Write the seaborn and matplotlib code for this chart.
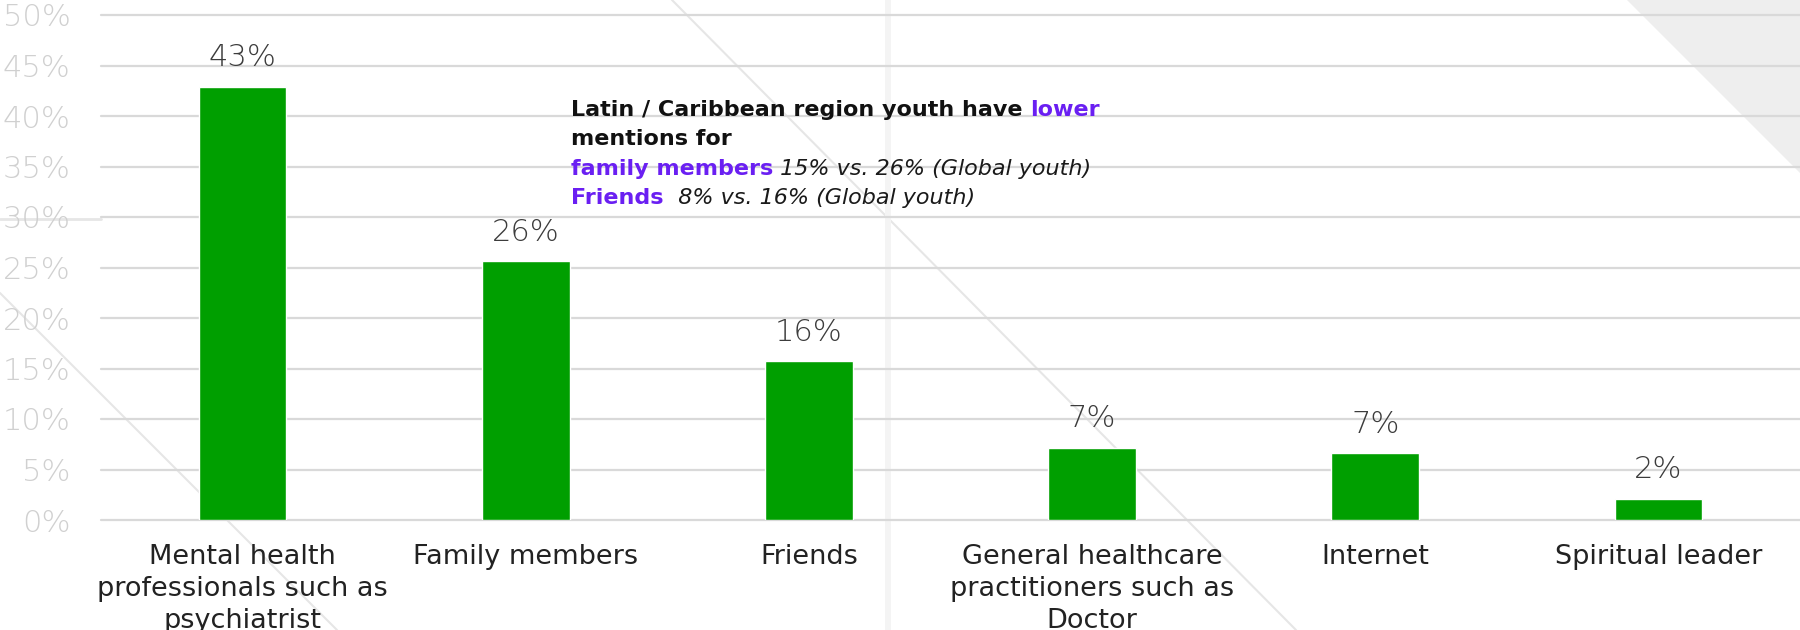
import matplotlib
matplotlib.use("Agg")
import matplotlib.pyplot as plt
import pandas as pd
import seaborn as sns
from matplotlib.lines import Line2D
from matplotlib.patches import Polygon, Rectangle
from matplotlib.offsetbox import TextArea, HPacker, VPacker, AnchoredOffsetbox

# --- data -------------------------------------------------------------------
categories = [
    "Mental health\nprofessionals such as\npsychiatrist",
    "Family members",
    "Friends",
    "General healthcare\npractitioners such as\nDoctor",
    "Internet",
    "Spiritual leader",
]
shares = [42.9, 25.6, 15.7, 7.1, 6.6, 2.1]
y_ticks = [0, 5, 10, 15, 20, 25, 30, 35, 40, 45, 50]

BAR_GREEN = "#009f00"
PURPLE = "#6a1ff2"

sns.set_theme(style="white")
plt.rcParams["font.family"] = ["DejaVu Sans"]

W, H = 1800, 630
fig = plt.figure(figsize=(W / 100, H / 100), dpi=100)
fig.patch.set_facecolor("white")


def fp(x, y):
    """pixel position (top-left origin) -> figure fraction"""
    return x / W, 1 - y / H


# --- slide background decoration -------------------------------------------
deco = "#e6e6e6"
tri = Polygon([fp(1627, 0), fp(1800, 0), fp(1800, 173)], closed=True,
              transform=fig.transFigure, facecolor="#eeeeee", edgecolor="none", zorder=-5)
fig.add_artist(tri)
for (x0, y0), (x1, y1) in [((0, 293), (337, 630)), ((672, 0), (1296, 630))]:
    a, b = fp(x0, y0), fp(x1, y1)
    fig.add_artist(Line2D([a[0], b[0]], [a[1], b[1]], transform=fig.transFigure,
                          color=deco, linewidth=1.5, zorder=-4))
vx, vy = fp(885, 630)
fig.add_artist(Rectangle((vx, 0), 6 / W, 1, transform=fig.transFigure,
                         facecolor="#f4f4f4", edgecolor="none", zorder=-4))
a, b = fp(0, 219), fp(101, 219)
fig.add_artist(Line2D([a[0], b[0]], [a[1], b[1]], transform=fig.transFigure,
                      color=deco, linewidth=2.0, zorder=-4))

# --- bar chart --------------------------------------------------------------
ax = fig.add_axes([101 / W, 110 / H, 1699 / W, 505 / H])
ax.patch.set_alpha(0)
df = pd.DataFrame({"source": categories, "share": shares})
sns.barplot(data=df, x="source", y="share", color=BAR_GREEN, saturation=1,
            width=0.31, ax=ax)

ax.set_xlim(-0.5, 5.5)
ax.set_ylim(0, 50)
ax.set_yticks(y_ticks)
ax.set_yticklabels([f"{t}%" for t in y_ticks])
ax.set_xlabel("")
ax.set_ylabel("")
for s in ax.spines.values():
    s.set_visible(False)
ax.grid(axis="y", color="#d9d9d9", linewidth=1.6)
ax.set_axisbelow(True)
for gl in ax.get_ygridlines():
    gl.set_clip_on(False)

ax.tick_params(axis="y", length=0, pad=22, labelsize=22, labelcolor="#d0d0d0")
ax.tick_params(axis="x", length=0, pad=17, labelsize=19.5, labelcolor="#222222")
for lbl in ax.get_yticklabels():
    lbl.set_fontweight("light")
for lbl in ax.get_xticklabels():
    lbl.set_multialignment("center")
    lbl.set_linespacing(1.3)

for i, v in enumerate(shares):
    ax.annotate(f"{v:.0f}%", (i, v), xytext=(0, 15), textcoords="offset points",
                ha="center", va="baseline", fontsize=22, color="#3c3c3c",
                fontweight="light")

# --- callout text -----------------------------------------------------------
FS = 16


def run(text, color="#111111", weight="bold", style="normal"):
    return TextArea(text, textprops=dict(color=color, fontsize=FS,
                                         fontweight=weight, fontstyle=style))


lines = [
    [run("Latin / Caribbean region youth have "), run("lower", PURPLE)],
    [run("mentions for")],
    [run("family members", PURPLE),
     run(" 15% vs. 26% (Global youth)", "#1a1a1a", "normal", "italic")],
    [run("Friends", PURPLE),
     run("  8% vs. 16% (Global youth)", "#1a1a1a", "normal", "italic")],
]
box = VPacker(children=[HPacker(children=c, sep=0, align="baseline") for c in lines],
              sep=6.8, align="left", pad=0)
anchor = fp(571, 100)
fig.add_artist(AnchoredOffsetbox(loc="upper left", child=box, pad=0, borderpad=0,
                                 frameon=False, bbox_to_anchor=anchor,
                                 bbox_transform=fig.transFigure))

fig.savefig("out.png", dpi=100)
